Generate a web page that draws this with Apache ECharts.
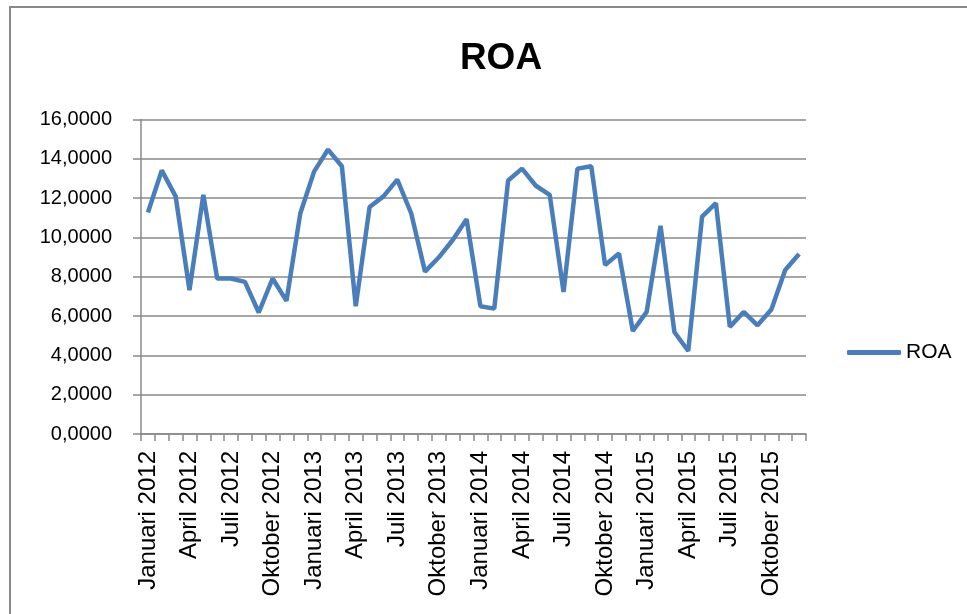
<!DOCTYPE html>
<html>
<head>
<meta charset="utf-8">
<script src="https://cdn.jsdelivr.net/npm/echarts@6/dist/echarts.min.js"></script>
<style>
  html, body { margin: 0; padding: 0; background: #fff; overflow: hidden; }
  #frame { position: absolute; left: 9px; top: 6px; width: 970px; height: 620px;
           border-left: 2px solid #898989; border-top: 2px solid #898989; }
  #chart { position: absolute; left: 0; top: 0; width: 967px; height: 614px; }
</style>
</head>
<body>
<div id="frame"></div>
<div id="chart"></div>
<script>
// bulan Januari 2012 - Desember 2015
const months = ['Januari', 'Februari', 'Maret', 'April', 'Mei', 'Juni', 'Juli',
  'Agustus', 'September', 'Oktober', 'November', 'Desember']
const years = [2012, 2013, 2014, 2015]
const categories = []
years.forEach(y => months.forEach(m => categories.push(m + ' ' + y)))

const roa = [
  11.27, 13.41, 12.09, 7.32, 12.17, 7.91, 7.91, 7.74, 6.18, 7.91, 6.77, 11.23,
  13.36, 14.47, 13.62, 6.50, 11.55, 12.09, 12.94, 11.23, 8.26, 8.99, 9.87, 10.93,
  6.50, 6.38, 12.90, 13.50, 12.63, 12.17, 7.23, 13.50, 13.62, 8.60, 9.19, 5.24,
  6.21, 10.59, 5.19, 4.22, 11.06, 11.74, 5.45, 6.21, 5.53, 6.33, 8.34, 9.16
]

const font = "'Liberation Sans', Arial, sans-serif"
const chart = echarts.init(document.getElementById('chart'))
chart.setOption({
  animation: false,
  title: {
    text: 'ROA',
    left: 496, top: 35, textAlign: 'center',
    textStyle: { fontFamily: font, fontSize: 37, fontWeight: 'bold', color: '#000' }
  },
  legend: {
    data: ['ROA'],
    left: 847, top: 342, padding: 0,
    itemWidth: 54, itemHeight: 5, itemGap: 6,
    icon: 'roundRect',
    textStyle: { fontFamily: font, fontSize: 21, color: '#000' }
  },
  grid: { left: 141, right: 161, top: 119.5, bottom: 180 },
  xAxis: {
    type: 'category',
    data: categories,
    boundaryGap: true,
    axisLine: { lineStyle: { color: '#898989', width: 1.5 } },
    axisTick: { show: true, interval: 0, length: 7, lineStyle: { color: '#898989', width: 1.5 } },
    axisLabel: {
      interval: 2, rotate: 90, margin: 17,
      fontFamily: font, fontSize: 24, color: '#000'
    }
  },
  yAxis: {
    type: 'value',
    min: 0, max: 16, interval: 2,
    axisLine: { show: true, lineStyle: { color: '#898989', width: 1.5 } },
    axisTick: { show: true, length: 8, lineStyle: { color: '#898989', width: 1.5 } },
    splitLine: { lineStyle: { color: '#898989', width: 1.5 } },
    axisLabel: {
      margin: 29,
      fontFamily: font, fontSize: 20, color: '#000',
      formatter: v => v.toFixed(4).replace('.', ',')
    }
  },
  series: [{
    name: 'ROA',
    type: 'line',
    data: roa,
    symbol: 'none',
    itemStyle: { color: '#4A7EBB' },
    lineStyle: { color: '#4A7EBB', width: 4.5 }
  }]
})
</script>
</body>
</html>
